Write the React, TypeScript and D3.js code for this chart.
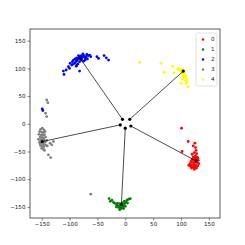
import React, { useEffect, useRef } from 'react';
import * as d3 from 'd3';

// class labels and colours
const labels = ['0', '1', '2', '3', '4'];
const colors = ['red', 'green', 'blue', 'gray', 'yellow'];

const ticks = [-150, -100, -50, 0, 50, 100, 150];

// embedded points per class
const class0: [number, number][] = [
  [101, -8], [113, -32], [102, -50], [125, -35], [126, -43], [122, -40], [127, -48],
  [120, -55], [124, -52], [128, -54], [126, -58], [122, -60], [129, -60], [125, -62],
  [120, -64], [123, -66], [127, -64], [131, -66], [118, -68], [121, -70], [125, -70],
  [129, -70], [132, -72], [116, -72], [119, -74], [123, -74], [127, -75], [130, -76],
  [117, -77], [121, -78], [125, -78], [128, -80], [114, -75], [124, -82], [119, -80],
  [130, -62], [126, -66],
];
const class1: [number, number][] = [
  [-29, -135], [-27, -140], [-21, -142], [-18, -144], [-15, -147], [-12, -148], [-9, -150],
  [-6, -152], [-3, -147], [-1, -144], [1, -141], [3, -138], [6, -136], [9, -135],
  [-10, -144], [-7, -146], [-4, -150], [-8, -153], [-12, -151], [-5, -143], [-14, -143],
  [-2, -140], [0, -149], [-16, -150], [-10, -155], [-3, -153], [4, -143], [-24, -138],
];
const class2: [number, number][] = [
  [-111, 95], [-110, 89], [-106, 97], [-102, 103], [-99, 109], [-100, 100], [-96, 106],
  [-93, 115], [-93, 108], [-90, 110], [-88, 113], [-87, 119], [-86, 115], [-84, 118],
  [-82, 120], [-80, 122], [-78, 118], [-78, 123], [-76, 121], [-74, 123], [-72, 119],
  [-69, 125], [-70, 121], [-66, 123], [-64, 124], [-88, 104], [-85, 108], [-82, 112],
  [-79, 115], [-75, 113], [-72, 115], [-76, 126], [-84, 123], [-90, 117], [-95, 112],
  [-82, 95], [-87, 106], [-68, 117], [-62, 121],
  [-51, 121], [-48, 118], [-38, 123], [-34, 119], [-30, 115],
  [-149, 27], [-148, 24],
];
const class3: [number, number][] = [
  [-152, -10], [-149, -8], [-146, -11], [-154, -14], [-150, -15], [-147, -16], [-144, -14],
  [-155, -19], [-151, -20], [-148, -21], [-145, -20], [-153, -24], [-150, -25], [-147, -26],
  [-143, -24], [-156, -28], [-152, -29], [-149, -30], [-146, -29], [-154, -33], [-151, -35],
  [-147, -36], [-144, -33], [-152, -39], [-149, -40], [-146, -41], [-150, -44], [-147, -46],
  [-145, -48], [-143, -38], [-141, -30], [-153, -36],
  [-135, -35], [-129, -32], [-138, -56], [-134, -61], [-140, -40], [-132, -38],
  [-141, 43], [-139, 38], [-143, 19], [-141, 13], [-62, -127],
];
const class4: [number, number][] = [
  [26, 111], [64, 109], [70, 93], [85, 104], [87, 92], [100, 73], [109, 73], [113, 67],
  [96, 100], [98, 98], [100, 97], [102, 99], [104, 96], [101, 94], [103, 92], [106, 94],
  [105, 90], [107, 88], [104, 86], [108, 84], [106, 82], [110, 80], [108, 78], [103, 88],
  [99, 95], [97, 97], [105, 93], [109, 86], [111, 76], [102, 80], [94, 98],
];
const classes = [class0, class1, class2, class3, class4];

// class prototypes and their starting points near the origin
const centroids: [number, number][] = [[127, -67], [-7, -146], [-81, 118], [-149, -32], [104, 95]];
const origins: [number, number][] = [[10, -4], [0, -8], [-5, 8], [-9, -2], [8, 8]];

export default function App() {
  const svgRef = useRef<SVGSVGElement>(null);

  useEffect(() => {
    if (!svgRef.current) return;
    const svg = d3.select(svgRef.current);
    svg.selectAll('*').remove();

    const x = d3.scaleLinear().domain([-171, 170]).range([30, 220]);
    const y = d3.scaleLinear().domain([-170, 171]).range([218, 29]);
    const font = 'DejaVu Sans, sans-serif';

    // points
    classes.forEach((pts, i) => {
      svg.append('g')
        .selectAll('circle')
        .data(pts)
        .enter()
        .append('circle')
        .attr('cx', d => x(d[0]))
        .attr('cy', d => y(d[1]))
        .attr('r', 1.4)
        .attr('fill', colors[i]);
    });

    // lines from origin points to centroids
    svg.append('g')
      .selectAll('line')
      .data(centroids)
      .enter()
      .append('line')
      .attr('x1', (_, i) => x(origins[i][0]))
      .attr('y1', (_, i) => y(origins[i][1]))
      .attr('x2', d => x(d[0]))
      .attr('y2', d => y(d[1]))
      .attr('stroke', 'black')
      .attr('stroke-width', 0.7);

    svg.append('g')
      .selectAll('circle')
      .data([...origins, ...centroids])
      .enter()
      .append('circle')
      .attr('cx', d => x(d[0]))
      .attr('cy', d => y(d[1]))
      .attr('r', 1.6)
      .attr('fill', 'black');

    // frame
    svg.append('rect')
      .attr('x', 30).attr('y', 29)
      .attr('width', 190).attr('height', 189)
      .attr('fill', 'none')
      .attr('stroke', '#333')
      .attr('stroke-width', 0.8);

    // axes
    const fmt = (d: number) => String(d).replace('-', '\u2212');
    const xa = svg.append('g').attr('transform', 'translate(0,218)')
      .call(d3.axisBottom(x).tickValues(ticks).tickSize(2.5).tickPadding(2).tickFormat(d => fmt(d as number)));
    const ya = svg.append('g').attr('transform', 'translate(30,0)')
      .call(d3.axisLeft(y).tickValues(ticks).tickSize(2.5).tickPadding(2).tickFormat(d => fmt(d as number)));
    [xa, ya].forEach(a => {
      a.select('.domain').remove();
      a.selectAll('line').attr('stroke', '#333').attr('stroke-width', 0.6);
      a.selectAll('text').attr('font-family', font).attr('font-size', 5.6).attr('fill', '#222');
    });

    // legend
    const lg = svg.append('g');
    lg.append('rect')
      .attr('x', 196).attr('y', 33)
      .attr('width', 21).attr('height', 53)
      .attr('rx', 1.5)
      .attr('fill', 'white')
      .attr('stroke', '#ccc')
      .attr('stroke-width', 0.6);
    labels.forEach((l, i) => {
      lg.append('circle')
        .attr('cx', 203).attr('cy', 39.5 + i * 10)
        .attr('r', 1.2)
        .attr('fill', colors[i]);
      lg.append('text')
        .attr('x', 211).attr('y', 39.5 + i * 10)
        .attr('dy', '0.35em')
        .attr('font-family', font)
        .attr('font-size', 5.6)
        .attr('fill', '#222')
        .text(l);
    });
  }, []);

  return (
    <svg
      ref={svgRef}
      width={245}
      height={245}
      style={{ position: 'absolute', left: 0, top: 0, background: 'white' }}
    />
  );
}
